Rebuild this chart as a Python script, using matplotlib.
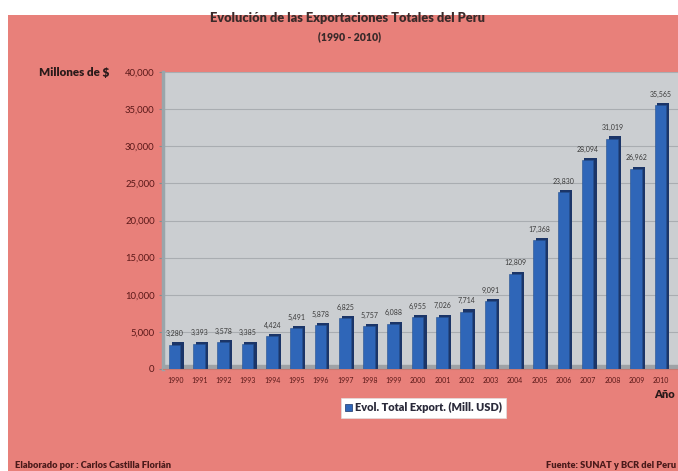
import matplotlib
matplotlib.use("Agg")
import matplotlib.pyplot as plt
from matplotlib.patches import Rectangle

years = [1990, 1991, 1992, 1993, 1994, 1995, 1996, 1997, 1998, 1999, 2000,
         2001, 2002, 2003, 2004, 2005, 2006, 2007, 2008, 2009, 2010]
exports = [3280, 3393, 3578, 3385, 4424, 5491, 5878, 6825, 5757, 6088, 6955,
           7026, 7714, 9091, 12809, 17368, 23830, 28094, 31019, 26962, 35565]
yticks = [0, 5000, 10000, 15000, 20000, 25000, 30000, 35000, 40000]

plt.rcParams['font.family'] = ['Lato', 'DejaVu Sans']

W, H = 678, 471
fig = plt.figure(figsize=(W / 100, H / 100), dpi=100, facecolor='white')
bg = '#E8807A'
fig.patches.append(Rectangle((8 / W, 0), 1, (H - 15) / H, transform=fig.transFigure,
                             facecolor=bg, edgecolor='none', zorder=-10))

ax = fig.add_axes([163 / W, 102 / H, (W - 163) / W, 297 / H])
ax.set_zorder(1)
ax.set_facecolor('#CBCED1')
ax.set_xlim(1989.5, 2010.7)
ax.set_ylim(0, 40000)

# grid
for t in yticks[1:]:
    ax.axhline(t, color='#A9ADB1', lw=0.8, zorder=1)
# floor
ax.axhspan(0, 500, color='#9EA2A6', zorder=1)

# 3D-ish bars: dark side/top, then front face
ax.bar([y + 0.1 for y in years], [v + 300 for v in exports], width=0.5,
       color='#1B3568', zorder=2)
ax.bar([y - 0.02 for y in years], exports, width=0.48, color='#2F66B8',
       edgecolor='#24508F', lw=0.4, zorder=3)

for y, v in zip(years, exports):
    ax.text(y, v + 1000, f"{v:,}", ha='center', va='bottom', fontsize=5,
            color='#3A3A3A', zorder=4)

ax.set_yticks(yticks)
ax.set_yticklabels([f"{t:,}" for t in yticks], fontsize=6.8, color='#5A1818')
ax.set_xticks(years)
ax.set_xticklabels([str(y) for y in years], fontsize=5, color='#5A1818')
ax.tick_params(axis='y', length=3, color='#8A8A8A', pad=3)
ax.tick_params(axis='x', length=0, pad=6)
for s in ['top', 'right']:
    ax.spines[s].set_visible(False)
ax.spines['left'].set_color('#9AA5AA')
ax.spines['left'].set_linewidth(2.5)
ax.spines['bottom'].set_color('#C87A72')

fig.text(347 / W, 1 - 18 / H, "Evolución de las Exportaciones Totales del Peru",
         ha='center', va='center', fontsize=9.2, fontweight='heavy', color='#3A2A2A')
fig.text(350 / W, 1 - 37 / H, "(1990 - 2010)", ha='center', va='center',
         fontsize=7.6, fontweight='heavy', color='#3A2A2A')
fig.text(39 / W, 1 - 73 / H, "Millones de $", ha='left', va='center',
         fontsize=8.4, fontweight='heavy', color='#2A1A1A')
fig.text(654 / W, 1 - 395 / H, "Año", ha='left', va='center',
         fontsize=8, fontweight='heavy', color='#2A1A1A')

# legend box
fig.patches.append(Rectangle((341 / W, 1 - 418 / H), 165 / W, 20 / H,
                             transform=fig.transFigure, facecolor='white',
                             edgecolor='#E0E0E0', lw=0.5, zorder=2))
fig.patches.append(Rectangle((345 / W, 1 - 411 / H), 7 / W, 7 / H,
                             transform=fig.transFigure, facecolor='#2F66B8',
                             edgecolor='#1B3568', lw=0.5, zorder=3))
fig.text(355 / W, 1 - 407.5 / H, "Evol. Total Export. (Mill. USD)", ha='left',
         va='center', fontsize=7.9, fontweight='heavy', color='#2A2A3A', zorder=4)

fig.text(15 / W, 1 - 465 / H, "Elaborado por : Carlos Castilla Florián", ha='left',
         va='center', fontsize=6.7, fontweight='heavy', color='#4A1A1A')
fig.text(676 / W, 1 - 465 / H, "Fuente: SUNAT y BCR del Peru", ha='right',
         va='center', fontsize=6.7, fontweight='heavy', color='#4A1A1A')

fig.savefig("out.png", dpi=100, facecolor='white')
